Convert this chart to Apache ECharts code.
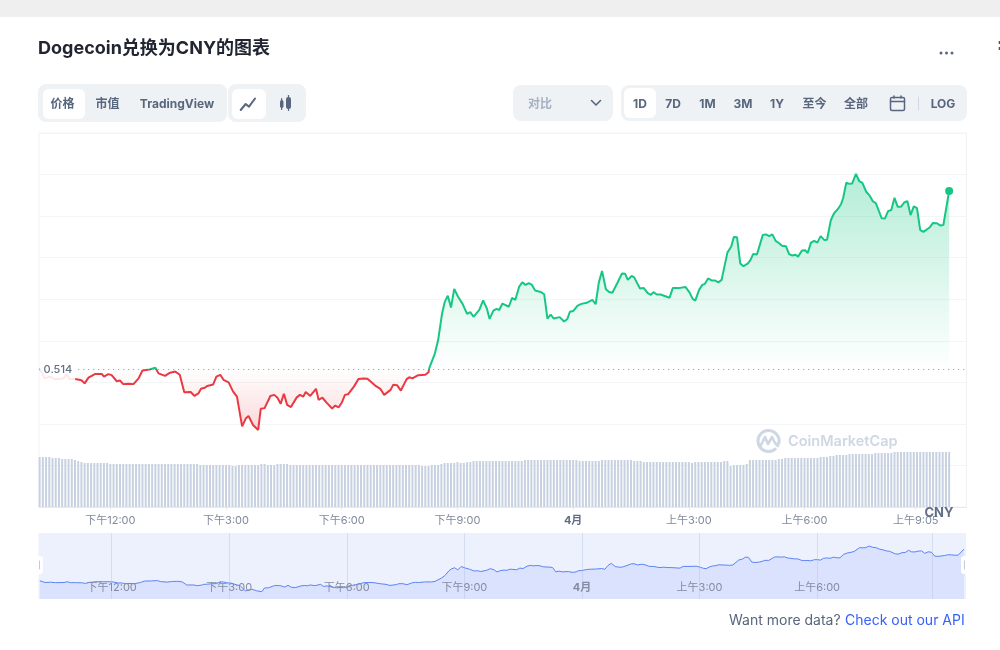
<!DOCTYPE html>
<html><head><meta charset="utf-8">
<style>html,body{margin:0;padding:0;background:#fff}#c{width:1000px;height:650px}</style>
<script src="https://cdn.jsdelivr.net/npm/echarts@6/dist/echarts.min.js"></script>
</head><body><div id="c"></div>
<script>
// minutes after 12:00 on the main time axis
const times=[-110,-102,-94,-86,-73,-68,-63,-55,-54,-45,-40,-34,-24,-13,-10,-3,2,10,15,20,28,36,44,50,61,70,75,85,93,101,108,115,125,131,137,141,147,151,160,165,171,176,184,191,197,200,205,211,215,222,230,234,240,249,255,260,265,270,275,281,290,295,300,304,311,320,324,330,336,345,350,355,360,365,370,379,386,394,400,412,420,426,436,440,446,452,455,461,465,470,479,490,495,
496,505,510,516,520,525,530,535,541,548,555,560,565,574,580,586,590,596,601,605,610,620,625,630,636,641,646,651,656,661,670,675,680,685,690,699,706,711,715,720,727,733,741,750,755,760,765,771,776,781,789,796,801,805,811,815,824,830,836,841,845,850,856,870,875,884,895,901,
906,910,916,921,925,930,936,941,946,951,960,966,970,975,980,985,992,996,1000,1006,1015,1020,1025,1030,1035,1040,1045,1051,1056,1061,1066,1070,1076,1081,1085,1090,1095,1100,1105,1111,1115,1121,1126,1132,1137,1140,1145,1150,1154,1160,1165,1170,1176,1181,1186,1191,1200,1205,1210,1215,1220,1225,1230,1235,1240,1245,1250,1255,1260,1265,1275,1280,1286,1291,1296,1305];
const prices=[.5143,.5115,.5120,.5113,.5115,.5127,.5113,.5113,.5112,.5110,.5101,.5117,.5127,.5127,.5120,.5127,.5124,.5107,.5109,.5099,.5100,.5099,.5115,.5137,.5140,.5145,.5129,.5122,.5131,.5134,.5125,.5076,.5077,.5066,.5073,.5086,.5089,.5094,.5098,.5120,.5125,.5111,.5104,.5078,.5064,.5062,.4981,.5004,.5010,.4985,.4971,.5030,.5032,.5066,.5069,.5061,.5044,.5072,.5041,.5035,.5062,.5069,.5064,.5077,.5066,.5086,.5055,.5061,.5048,.5031,.5039,.5034,.5047,.5069,.5071,.5092,.5113,.5115,.5114,.5095,.5086,.5069,.5083,.5097,.5096,.5081,.5085,.5113,.5118,.5115,.5124,.5125,.5132,
.5143,.5185,.5222,.5295,.5327,.5346,.5313,.5365,.5343,.5323,.5295,.5300,.5287,.5306,.5333,.5309,.5281,.5304,.5309,.5306,.5324,.5315,.5340,.5334,.5371,.5383,.5376,.5381,.5376,.5360,.5356,.5350,.5282,.5293,.5282,.5286,.5274,.5281,.5301,.5303,.5318,.5323,.5326,.5334,.5322,.5383,.5415,.5364,.5356,.5354,.5382,.5408,.5407,.5390,.5401,.5397,.5366,.5367,.5353,.5348,.5356,.5349,.5349,.5340,.5367,.5367,.5370,.5355,
.5337,.5332,.5362,.5376,.5379,.5394,.5388,.5388,.5383,.5390,.5466,.5483,.5510,.5509,.5436,.5428,.5436,.5446,.5462,.5461,.5515,.5517,.5512,.5517,.5499,.5493,.5485,.5484,.5462,.5458,.5460,.5455,.5472,.5473,.5465,.5494,.5499,.5494,.5512,.5501,.5502,.5557,.5576,.5588,.5602,.5618,.5661,.5658,.5659,.5686,.5666,.5661,.5636,.5626,.5610,.5604,.5562,.5561,.5582,.5585,.5619,.5594,.5594,.5606,.5610,.5571,.5595,.5590,.5529,.5524,.5537,.5549,.5548,.5542,.5543,.5638];
// one volume bar every 5 minutes from the first time above
const volumes=[50,50,50,50,49,49,49,48,48,48,48,47,46,45,44,44,44,44,44,44,44,44,
43,43,43,43,43,43,43,43,43,43,43,43,43,43,43,43,43,43,43,43,43,43,43,43,43,43,43,43,
42,42,42,42,42,42,42,42,42,42,41,41,42,42,42,42,42,42,42,43,43,42,42,42,43,43,43,43,
42,42,42,42,42,42,42,42,42,42,42,42,42,42,42,42,42,42,42,42,42,42,42,42,42,42,42,42,42,42,42,42,42,42,42,42,42,42,42,42,42,
41,41,41,42,42,42,43,44,44,44,44,45,44,44,45,45,
46,46,46,46,46,46,46,46,46,46,46,46,46,46,46,46,
47,47,47,47,47,47,47,47,47,47,47,47,47,47,47,47,47,
46,46,46,46,46,46,46,47,47,47,47,47,47,47,47,47,47,46,46,46,
45,45,45,45,45,45,45,45,45,45,45,45,45,45,45,44,45,45,45,45,45,45,45,45,45,46,46,41,42,42,42,42,43,
47,47,47,47,47,47,47,47,47,48,48,49,49,49,49,49,49,49,49,49,49,49,50,50,50,51,51,52,52,52,52,
53,53,53,53,53,53,53,53,54,54,54,54,54,54,55,55,55,55,55,55,55,55,55,55,55,55,55,55,55,55,55,55];
const tickValues=[0,180,360,540,720,900,1080,1253];
const tickLabels=['下午12:00','下午3:00','下午6:00','下午9:00','4月','上午3:00','上午6:00','上午9:05'];
const miniTickValues=[0,180,360,540,720,900,1080,1256];
const miniTickLabels=['下午12:00','下午3:00','下午6:00','下午9:00','4月','上午3:00','上午6:00'];
const basePrice=0.514;
const baseLabel='0.514';
const tabsLeft=[['价格',62.5],['市值',107.5],['TradingView',177]];
const tabsRight=[['1D',640],['7D',673],['1M',707.5],['3M',743],['1Y',777],['至今',814.5],['全部',856],['LOG',943]];

const FONT='Inter,"Noto Sans CJK SC",sans-serif';
const pricePairs=times.map((t,i)=>[t,prices[i]]);
const volumePairs=volumes.map((v,i)=>[times[0]+i*5,v]);
const last=pricePairs[pricePairs.length-1];

function box(x,y,w,h,r,fill,z){return {type:'rect',silent:true,z:z||1,shape:{x,y,width:w,height:h,r},style:{fill}};}
function label(text,x,y,font,fill,align,z){return {type:'text',silent:true,z:z||3,style:{text,x,y,font,fill,textAlign:align||'center',textVerticalAlign:'middle'}};}
function stroke(points,color,w,z){return {type:'polyline',silent:true,z:z||3,shape:{points},style:{stroke:color,lineWidth:w,fill:null,lineCap:'round',lineJoin:'round'}};}
const SLATE='#58667e';
const chrome=[
 box(0,0,1000,17,0,'#efefef'),
 box(998.7,41,1.3,3,0,'#7a4a10'),box(998.7,47,1.3,3,0,'#7a4a10'),
 label('Dogecoin兑换为CNY的图表',38,49,'700 18px '+FONT,'#222531','left'),
 {type:'circle',silent:true,shape:{cx:941,cy:53,r:1.5},style:{fill:SLATE}},
 {type:'circle',silent:true,shape:{cx:946.5,cy:53,r:1.5},style:{fill:SLATE}},
 {type:'circle',silent:true,shape:{cx:952,cy:53,r:1.5},style:{fill:SLATE}},
 box(38,84,189,38,8,'#eff2f5'),box(43,89,42,30,6,'#ffffff',2),
 box(228,84,78,38,8,'#eff2f5'),box(232,89,34,30,6,'#ffffff',2),
 stroke([[240.7,110],[245.7,104],[249,106.7],[255,98.5]],SLATE,2),
 box(280,100,3.5,8,1.7,SLATE,3),box(286,97,5,12,2.2,SLATE,3),
 box(281,98,1.2,12,0.5,SLATE,3),box(287.9,95,1.2,16,0.5,SLATE,3),
 box(513,85,100,36,8,'#eff2f5'),
 label('对比',528,104,'600 12px '+FONT,'#a6b0c3','left'),
 stroke([[591.5,100.5],[596,105],[600.5,100.5]],SLATE,1.6),
 box(621,85,346,36,8,'#eff2f5'),box(624,88,32,30,6,'#ffffff',2),
 {type:'rect',silent:true,z:3,shape:{x:890.5,y:97.5,width:14,height:13,r:1.5},style:{fill:null,stroke:SLATE,lineWidth:1.5}},
 stroke([[890.5,101.5],[904.5,101.5]],SLATE,1.5),stroke([[894,96],[894,98]],SLATE,1.5),stroke([[901,96],[901,98]],SLATE,1.5),
 stroke([[918.5,97],[918.5,110]],'#cfd6e4',1),
 {type:'arc',silent:true,z:4,shape:{cx:768.5,cy:441,r:10.5,startAngle:0.75,endAngle:0.35,clockwise:true},style:{stroke:'#cfd6e4',lineWidth:3,fill:null}},
 stroke([[760,447],[765,437],[768,444],[772,437],[775,443],[778,446]],'#cfd6e4',2.6,4),
 label('CoinMarketCap',788,442,'600 14.5px '+FONT,'#cfd6e4','left',4),
 label('CNY',939,513,'700 13px '+FONT,'#616e85','center',6),
 box(36,556,7,18,3,'#ffffff',6),box(961,556,7,18,3,'#ffffff',6),
 stroke([[39.5,561],[39.5,569]],'#c4c9d3',1,7),stroke([[964.5,561],[964.5,569]],'#c4c9d3',1,7),
 label('Want more data? ',729,621,'400 14px '+FONT,SLATE,'left'),
 label('Check out our API',845,621,'400 14px '+FONT,'#3861fb','left')
];
tabsLeft.concat(tabsRight).forEach(([t,x])=>chrome.push(label(t,x,104,'700 12px '+FONT,SLATE)));

const chart=echarts.init(document.getElementById('c'),null,{renderer:'canvas'});
function fmt(vals,labs){return v=>{const i=vals.indexOf(v);if(i<0||i>=labs.length)return '';return labs[i]==='4月'?'{b|4月}':labs[i];};}
chart.setOption({
 animation:false,
 textStyle:{fontFamily:FONT},
 graphic:{elements:chrome},
 grid:[
  {left:39,right:33.5,top:133,height:374,show:true,borderColor:'#eff2f5',borderWidth:1,backgroundColor:'transparent'},
  {left:38.5,right:34,top:533,height:66,show:true,borderWidth:0,backgroundColor:'#edf1fe'}
 ],
 xAxis:[
  {type:'value',gridIndex:0,min:-111,max:1332,splitLine:{show:false},
   axisLine:{show:true,onZero:false,lineStyle:{color:'#e6e9ef'}},
   axisTick:{show:true,length:3,customValues:tickValues,lineStyle:{color:'#e6e9ef'}},
   axisLabel:{customValues:tickValues,formatter:fmt(tickValues,tickLabels),margin:8,fontSize:11,color:'#808a9d',fontFamily:FONT,
     rich:{b:{fontWeight:700,fontSize:11,color:'#616e85',fontFamily:FONT}}}},
  {type:'value',gridIndex:1,min:-112,max:1308,z:5,
   splitLine:{show:true,lineStyle:{color:'rgba(170,182,220,0.35)',width:1}},
   axisLine:{show:false},axisTick:{show:false,customValues:miniTickValues},
   axisLabel:{inside:true,customValues:miniTickValues,formatter:fmt(miniTickValues,miniTickLabels),margin:6,fontSize:11,color:'#858ca2',fontFamily:FONT,
     rich:{b:{fontWeight:700,fontSize:11,color:'#858ca2',fontFamily:FONT}}}}
 ],
 yAxis:[
  {type:'value',gridIndex:0,min:0.4756,max:0.58,interval:0.0116,axisLabel:{show:false},axisLine:{show:false},axisTick:{show:false},
   splitLine:{show:true,lineStyle:{color:'#f3f5f7',width:1}}},
  {type:'value',gridIndex:0,min:0,max:374,show:false,splitLine:{show:false}},
  {type:'value',gridIndex:1,min:0.4857,max:0.589,show:false,splitLine:{show:false}}
 ],
 visualMap:[{type:'piecewise',show:false,seriesIndex:1,dimension:1,
   pieces:[{gt:basePrice,lte:1,color:'#16c784'},{gt:0,lte:basePrice,color:'#ea3943'}]}],
 series:[
  {type:'bar',name:'volume',xAxisIndex:0,yAxisIndex:1,data:volumePairs,barWidth:2,itemStyle:{color:'#c8d1e1'},z:1,silent:true},
  {type:'line',name:'price',xAxisIndex:0,yAxisIndex:0,data:pricePairs,showSymbol:false,symbol:'none',lineStyle:{width:2},z:3,silent:true,
   areaStyle:{origin:basePrice,opacity:1,color:{type:'linear',x:0,y:0,x2:0,y2:1,colorStops:[
     {offset:0,color:'rgba(22,199,132,0.32)'},{offset:0.76,color:'rgba(22,199,132,0)'},
     {offset:0.76,color:'rgba(234,57,67,0)'},{offset:1,color:'rgba(234,57,67,0.2)'}]}},
   markLine:{silent:true,symbol:'none',z:6,animation:false,
     lineStyle:{color:'#8c95a6',type:[1,4],width:1},
     label:{show:true,position:'start',formatter:baseLabel,distance:3,color:'#616e85',fontSize:11,fontWeight:500,fontFamily:FONT,
       backgroundColor:'rgba(255,255,255,0.88)',padding:[8,3,8,4]},
     data:[[{coord:[-50,basePrice]},{coord:[1332,basePrice]}]]}},
  {type:'scatter',name:'latest',xAxisIndex:0,yAxisIndex:0,data:[last],symbolSize:8,itemStyle:{color:'#16c784',opacity:1},z:5,silent:true},
  {type:'line',name:'overview',xAxisIndex:1,yAxisIndex:2,data:pricePairs,showSymbol:false,symbol:'none',silent:true,
   lineStyle:{width:1,color:'#5b84f5'},areaStyle:{origin:'start',color:'#dae2fd',opacity:1},z:2}
 ]
});
</script></body></html>
